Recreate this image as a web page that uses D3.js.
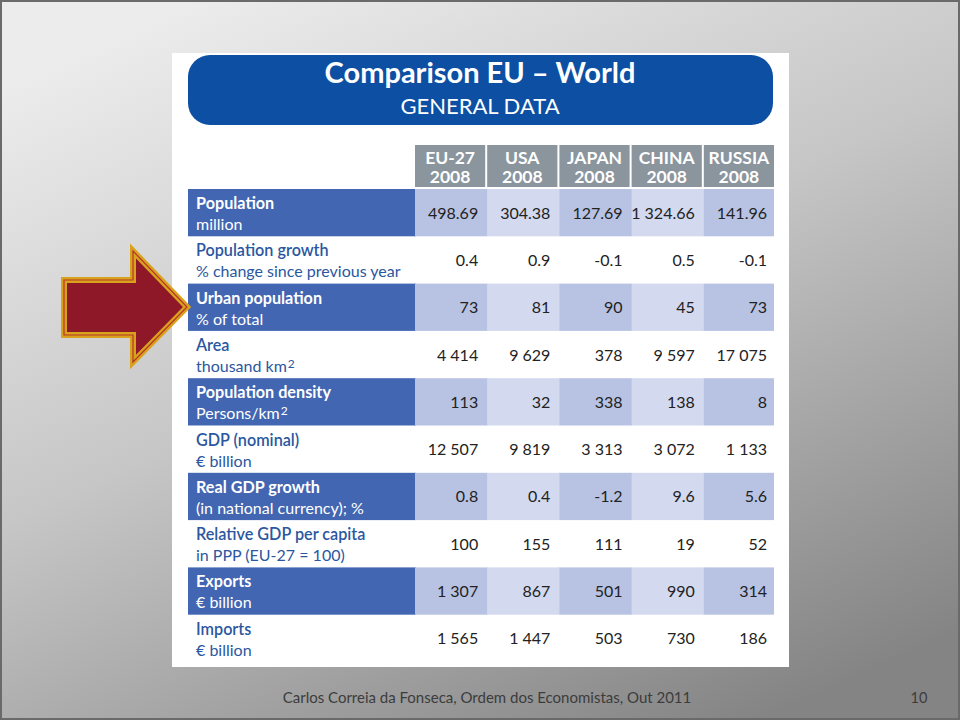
<!DOCTYPE html>
<html><head><meta charset="utf-8">
<script src="https://cdn.jsdelivr.net/npm/d3@7"></script>
<style>html,body{margin:0;padding:0;background:#fff;}svg{display:block;}</style>
</head><body>
<svg id="c" width="960" height="720"></svg>
<script>
// ---- data ----
const title = "Comparison EU \u2013 World";
const subtitle = "GENERAL DATA";
const columns = ["EU-27", "USA", "JAPAN", "CHINA", "RUSSIA"];
const year = "2008";
const rowTitles = ["Population", "Population growth", "Urban population", "Area", "Population density",
  "GDP (nominal)", "Real GDP growth", "Relative GDP per capita", "Exports", "Imports"];
const rowUnits = ["million", "% change since previous year", "% of total", "thousand km|2", "Persons/km|2",
  "\u20AC billion", "(in national currency); %", "in PPP (EU-27 = 100)", "\u20AC billion", "\u20AC billion"];
const rowDecimals = [2, 1, 0, 0, 0, 0, 1, 0, 0, 0];
const eu27   = [498.69, 0.4, 73, 4414, 113, 12507, 0.8, 100, 1307, 1565];
const usa    = [304.38, 0.9, 81, 9629, 32, 9819, 0.4, 155, 867, 1447];
const japan  = [127.69, -0.1, 90, 378, 338, 3313, -1.2, 111, 501, 503];
const china  = [1324.66, 0.5, 45, 9597, 138, 3072, 9.6, 19, 990, 730];
const russia = [141.96, -0.1, 73, 17075, 8, 1133, 5.6, 52, 314, 186];
const seriesValues = [eu27, usa, japan, china, russia];
const footer = "Carlos Correia da Fonseca, Ordem dos Economistas, Out 2011";
const pageNumber = "10";

// ---- drawing ----
const svg = d3.select("#c");
const defs = svg.append("defs");
const bg = defs.append("linearGradient").attr("id", "bg")
  .attr("x1", "0.2").attr("y1", "0").attr("x2", "0.8").attr("y2", "1");
bg.append("stop").attr("offset", "0").attr("stop-color", "#ececec");
bg.append("stop").attr("offset", "0.45").attr("stop-color", "#c6c6c6");
bg.append("stop").attr("offset", "1").attr("stop-color", "#848484");

svg.append("rect").attr("x", 1).attr("y", 1).attr("width", 958).attr("height", 718)
  .attr("fill", "url(#bg)").attr("stroke", "#6a6a6a").attr("stroke-width", 2);

// white panel
svg.append("rect").attr("x", 172).attr("y", 53).attr("width", 617).attr("height", 614).attr("fill", "#ffffff");

// title banner
svg.append("rect").attr("x", 188).attr("y", 55).attr("width", 585).attr("height", 70).attr("rx", 22)
  .attr("fill", "#0c4fa3");
svg.append("text").attr("x", 480).attr("y", 83).attr("text-anchor", "middle")
  .attr("font-family", "Lato, 'Open Sans', sans-serif").attr("font-weight", 700).attr("font-size", 29)
  .attr("fill", "#fff").text(title);
svg.append("text").attr("x", 480).attr("y", 114).attr("text-anchor", "middle")
  .attr("font-family", "Lato, 'Open Sans', sans-serif").attr("font-size", 22)
  .attr("fill", "#fff").text(subtitle);

// scales
const x = d3.scaleBand().domain(columns).range([415, 774]).paddingInner(0.028).paddingOuter(0);
const rowIdx = d3.range(rowTitles.length);
const y = d3.scaleBand().domain(rowIdx).range([189, 662]);
const labelX0 = 188;

const locale = d3.formatLocale({decimal: ".", thousands: " ", grouping: [3], currency: ["", ""], minus: "-"});
const fmt = (v, dec) => locale.format(",." + dec + "f")(v);

// header cells
const hdr = svg.append("g");
hdr.selectAll("rect").data(columns).join("rect")
  .attr("x", d => x(d)).attr("y", 145).attr("width", x.bandwidth()).attr("height", 42)
  .attr("fill", "#8a959e");
hdr.selectAll("text.c").data(columns).join("text").attr("class", "c")
  .attr("x", d => x(d) + x.bandwidth() / 2).attr("y", 164).attr("text-anchor", "middle")
  .attr("font-family", "'Liberation Sans Narrow', 'Arial Narrow', Lato, sans-serif").attr("font-weight", 700)
  .attr("font-size", 17.5).attr("fill", "#fff").text(d => d);
hdr.selectAll("text.y").data(columns).join("text").attr("class", "y")
  .attr("x", d => x(d) + x.bandwidth() / 2).attr("y", 183).attr("text-anchor", "middle")
  .attr("font-family", "'Liberation Sans Narrow', 'Arial Narrow', Lato, sans-serif").attr("font-weight", 700)
  .attr("font-size", 17.5).attr("fill", "#fff").text(year);

// rows
const step = x.step();
const lastCol = columns[columns.length - 1];
const darkCols = new Set(["EU-27", "JAPAN", "RUSSIA"]);
const rows = svg.append("g").selectAll("g").data(rowIdx).join("g");
rows.each(function(i) {
  const g = d3.select(this);
  const shaded = i % 2 === 0;
  const top = y(i), h = y.bandwidth();
  const col = shaded ? "#fff" : "#2b57a0";
  if (shaded) {
    g.append("rect").attr("x", labelX0).attr("y", top).attr("width", x(columns[0]) - labelX0 + 1).attr("height", h)
      .attr("fill", "#4266b2");
    g.selectAll("rect.v").data(columns).join("rect").attr("class", "v")
      .attr("x", d => x(d)).attr("y", top).attr("width", d => d === lastCol ? x.bandwidth() : step + 0.5).attr("height", h)
      .attr("fill", d => darkCols.has(d) ? "#b8c3e4" : "#d3d9ef");
  }
  g.append("text").attr("x", 196).attr("y", top + 20)
    .attr("font-family", "Lato, 'Open Sans', sans-serif").attr("font-weight", shaded ? 700 : 600)
    .attr("font-size", 16.2).attr("fill", col).text(rowTitles[i]);
  const unitParts = rowUnits[i].split("|");
  const ut = g.append("text").attr("x", 196).attr("y", top + 41)
    .attr("font-family", "Lato, 'Open Sans', sans-serif").attr("font-weight", 400)
    .attr("font-size", 16).attr("fill", col);
  ut.append("tspan").text(unitParts[0]);
  if (unitParts.length > 1) {
    ut.append("tspan").attr("font-size", 12).attr("dy", -4).attr("dx", 1).text(unitParts[1]);
  }
  g.selectAll("text.val").data(columns).join("text").attr("class", "val")
    .attr("x", d => x(d) + x.bandwidth() - 7).attr("y", top + h / 2 + 6).attr("text-anchor", "end")
    .attr("font-family", "Lato, 'Open Sans', sans-serif").attr("font-size", 16)
    .attr("fill", "#222").text((d, j) => fmt(seriesValues[j][i], rowDecimals[i]));
});

// arrow
const arrowPts = [[64, 280], [133, 280], [133, 251], [187, 307], [133, 362], [133, 335], [64, 335]];
const line = d3.line().curve(d3.curveLinearClosed);
svg.append("path").attr("d", line(arrowPts)).attr("fill", "#8e1828")
  .attr("stroke", "#d9a21c").attr("stroke-width", 6).attr("stroke-linejoin", "miter");
svg.append("path").attr("d", line(arrowPts)).attr("fill", "none")
  .attr("stroke", "#b8352a").attr("stroke-width", 1.2).attr("stroke-linejoin", "miter");

// footer
svg.append("text").attr("x", 487).attr("y", 703).attr("text-anchor", "middle")
  .attr("font-family", "Lato, 'Open Sans', sans-serif").attr("font-size", 15).attr("fill", "#3c3c3c").text(footer);
svg.append("text").attr("x", 919).attr("y", 703).attr("text-anchor", "middle")
  .attr("font-family", "Lato, 'Open Sans', sans-serif").attr("font-size", 14.5).attr("fill", "#3c3c3c").text(pageNumber);
</script>
</body></html>
